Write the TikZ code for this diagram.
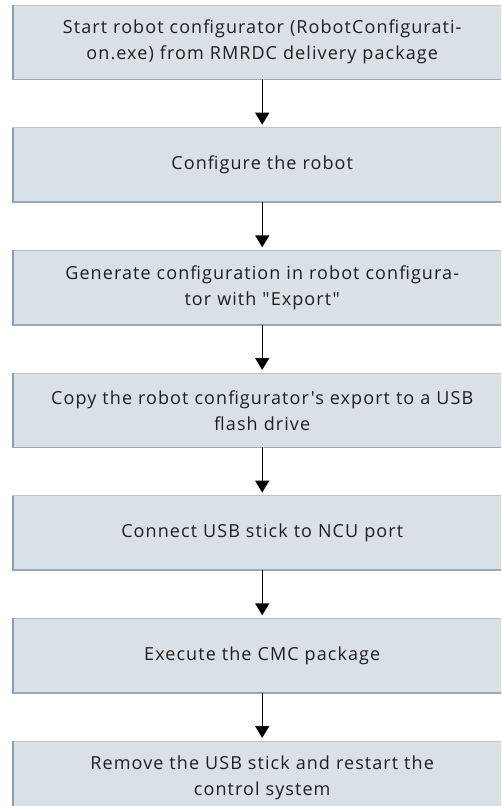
\documentclass[tikz,border=0pt]{standalone}
\usepackage{fontspec}
\setmainfont{Open Sans}[Ligatures=TeXOff, LetterSpace=6]
\usetikzlibrary{arrows.meta}
\definecolor{boxfill}{HTML}{D9E0E6}
\definecolor{boxedge}{HTML}{9BA9B5}
\definecolor{boxtop}{HTML}{B9C3CC}
\definecolor{boxleft}{HTML}{8C9CAA}
\tikzset{
  stepbox/.style={anchor=north west, fill=boxfill, draw=none,
    minimum width=500pt, minimum height=74pt, inner sep=0pt,
    align=center, text width=490pt,
    font=\fontsize{18pt}{26pt}\selectfont, text=black!88},
  flow/.style={line width=1.4pt, -{Triangle[length=12pt,width=14pt]},
    shorten >=3pt}
}
\newcommand{\boxedges}[1]{%
  \draw[boxtop, line width=1pt] (#1.north west) -- (#1.north east);
  \draw[boxedge, line width=1.6pt] (#1.south west) -- (#1.south east);
  \draw[boxleft, line width=2pt] ([xshift=1pt]#1.north west) -- ([xshift=1pt]#1.south west);
}
\begin{document}
\begin{tikzpicture}[x=1pt,y=1pt]
\useasboundingbox (0,0) rectangle (501,-806);
\clip (0,0) rectangle (501,-806);
\node[stepbox] (s1) at (12,-5) {Start robot configurator (RobotConfigurati-\\on.exe) from RMRDC delivery package};
\node[stepbox] (s2) at (12,-127.7) {Configure the robot};
\node[stepbox] (s3) at (12,-250.3) {Generate configuration in robot configura-\\tor with "Export"};
\node[stepbox] (s4) at (12,-373) {Copy the robot configurator's export to a USB\\flash drive};
\node[stepbox] (s5) at (12,-495.6) {Connect USB stick to NCU port};
\node[stepbox] (s6) at (12,-618.3) {Execute the CMC package};
\node[stepbox] (s7) at (12,-741) {Remove the USB stick and restart the\\control system};
\foreach \n in {s1,s2,s3,s4,s5,s6,s7} {\boxedges{\n}}
\draw[flow] (s1.south) -- (s2.north);
\draw[flow] (s2.south) -- (s3.north);
\draw[flow] (s3.south) -- (s4.north);
\draw[flow] (s4.south) -- (s5.north);
\draw[flow] (s5.south) -- (s6.north);
\draw[flow] (s6.south) -- (s7.north);
\end{tikzpicture}
\end{document}
